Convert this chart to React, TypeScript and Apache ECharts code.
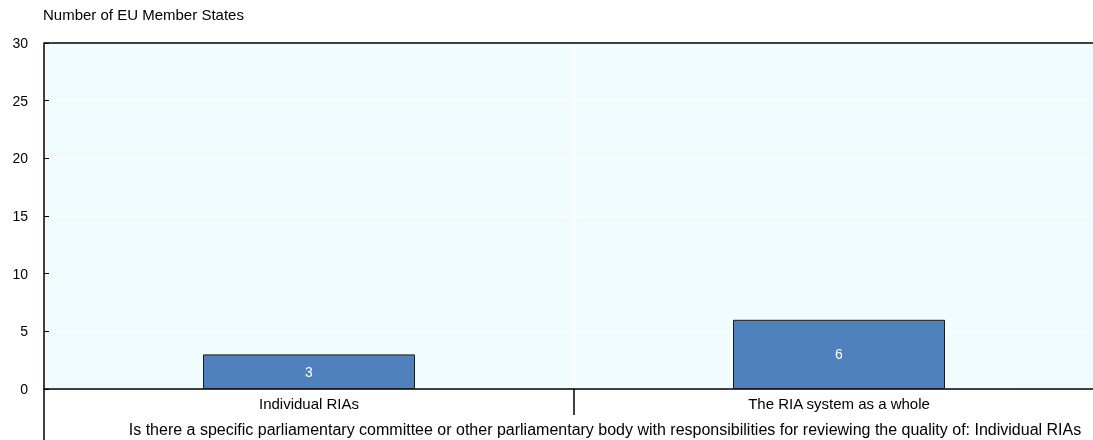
import React, { useEffect, useRef } from "react";
import * as echarts from "echarts";

const categories = ["Individual RIAs", "The RIA system as a whole"];
const counts = [3, 6];
const yTicks = [0, 5, 10, 15, 20, 25, 30];
const yAxisTitle = "Number of EU Member States";
const xAxisTitle =
  "Is there a specific parliamentary committee or other parliamentary body with responsibilities for reviewing the quality of: Individual RIAs";

const FONT = "'Liberation Sans', Arial, sans-serif";

// The plot runs slightly past the visible page on the right, so the
// canvas is wider than the window and the overflow is clipped.
const CANVAS_W = 1115;
const CANVAS_H = 440;

export default function App() {
  const ref = useRef<HTMLDivElement>(null);

  useEffect(() => {
    document.body.style.overflow = "hidden";
    if (!ref.current) return;
    const chart = echarts.init(ref.current, null, { renderer: "svg" });
    const left = 44;
    const top = 43;
    const bottom = 51;
    const plotRight = 1104;
    const band = (plotRight - left) / categories.length;
    chart.setOption({
      animation: false,
      textStyle: { fontFamily: FONT },
      grid: {
        left,
        right: CANVAS_W - plotRight,
        top,
        bottom,
        show: true,
        backgroundColor: "#F1FCFF",
        borderWidth: 0,
      },
      xAxis: {
        type: "category",
        data: categories,
        axisLine: { show: true, lineStyle: { color: "#000", width: 1.5 } },
        axisTick: { show: false },
        axisLabel: { color: "#000", fontSize: 15, fontFamily: FONT, margin: 7 },
        splitLine: { show: true, interval: 0, lineStyle: { color: "#fff", width: 1 } },
      },
      yAxis: {
        type: "value",
        min: yTicks[0],
        max: yTicks[yTicks.length - 1],
        interval: 5,
        axisLine: { show: true, lineStyle: { color: "#000", width: 1.5 } },
        axisTick: { show: true, inside: true, length: 5, lineStyle: { color: "#000" } },
        axisLabel: { color: "#000", fontSize: 14, fontFamily: FONT, margin: 16 },
        splitLine: { show: true, lineStyle: { color: "#fff", width: 1 } },
      },
      series: [
        {
          type: "bar",
          data: counts,
          barWidth: "40%",
          itemStyle: { color: "#4F81BD", borderColor: "#1a1a1a", borderWidth: 1 },
          label: {
            show: true,
            position: "inside",
            color: "#fff",
            fontSize: 14,
            fontFamily: FONT,
          },
        },
      ],
      graphic: [
        {
          type: "line",
          shape: { x1: left, y1: top, x2: plotRight, y2: top },
          style: { stroke: "#000", lineWidth: 1.5 },
          z: 10,
        },
        {
          type: "line",
          shape: { x1: left, y1: CANVAS_H - bottom, x2: left, y2: CANVAS_H },
          style: { stroke: "#000", lineWidth: 1.5 },
          z: 10,
        },
        {
          type: "line",
          shape: {
            x1: left + band,
            y1: CANVAS_H - bottom,
            x2: left + band,
            y2: CANVAS_H - bottom + 26,
          },
          style: { stroke: "#000", lineWidth: 1.5 },
          z: 10,
        },
        {
          type: "text",
          x: 43,
          y: 14,
          style: {
            text: yAxisTitle,
            fill: "#000",
            fontSize: 15,
            fontFamily: FONT,
            textAlign: "left",
            textVerticalAlign: "middle",
          },
        },
        {
          type: "text",
          x: 605,
          y: 429,
          style: {
            text: xAxisTitle,
            fill: "#000",
            fontSize: 16,
            fontFamily: FONT,
            textAlign: "center",
            textVerticalAlign: "middle",
          },
        },
      ],
    });
    return () => chart.dispose();
  }, []);

  return (
    <div
      ref={ref}
      style={{ position: "fixed", left: 0, top: 0, width: CANVAS_W, height: CANVAS_H }}
    />
  );
}
